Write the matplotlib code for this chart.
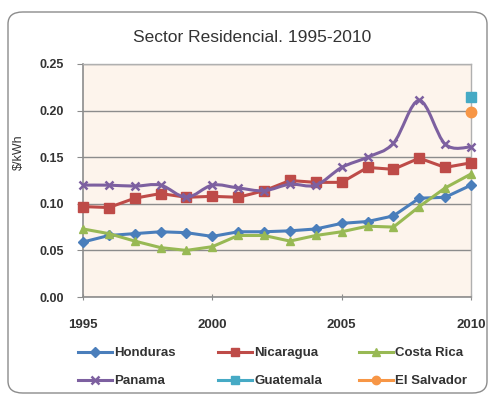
import numpy as np
import matplotlib
matplotlib.use("Agg")
import matplotlib.pyplot as plt
from matplotlib.path import Path
from matplotlib.patches import PathPatch, FancyBboxPatch
from matplotlib.lines import Line2D

years = list(range(1995, 2011))
honduras = [0.059, 0.066, 0.068, 0.070, 0.069, 0.065, 0.070, 0.070, 0.071, 0.073,
            0.079, 0.081, 0.087, 0.106, 0.107, 0.120]
nicaragua = [0.097, 0.096, 0.106, 0.111, 0.107, 0.108, 0.107, 0.114, 0.125, 0.123,
             0.123, 0.139, 0.137, 0.149, 0.139, 0.144]
costa_rica = [0.073, 0.068, 0.060, 0.053, 0.050, 0.054, 0.066, 0.066, 0.060, 0.066,
              0.070, 0.076, 0.075, 0.097, 0.117, 0.132]
panama = [0.120, 0.120, 0.119, 0.120, 0.107, 0.120, 0.117, 0.114, 0.121, 0.120,
          0.139, 0.150, 0.165, 0.211, 0.164, 0.161]
guatemala_year, guatemala = [2010], [0.215]
salvador_year, salvador = [2010], [0.199]

title = "Sector Residencial. 1995-2010"
ylabel = "$/kWh"
xticks = [1995, 2000, 2005, 2010]
yticks = [0.0, 0.05, 0.10, 0.15, 0.20, 0.25]

C_HON = "#4A7EBB"
C_NIC = "#BE4B48"
C_CR = "#98B954"
C_PAN = "#7D60A0"
C_GUA = "#46AAC5"
C_SAL = "#F79646"

plt.rcParams["font.family"] = ["Liberation Sans", "DejaVu Sans"]

W, H = 491, 398
fig = plt.figure(figsize=(W / 100, H / 100), dpi=100)
fig.patch.set_facecolor("white")

# rounded chart frame
frame = FancyBboxPatch((8 / W, 5 / H), 479 / W, 381 / H,
                       boxstyle="round,pad=0,rounding_size=0.03",
                       transform=fig.transFigure, facecolor="white",
                       edgecolor="#8c8c8c", linewidth=1.0, zorder=-5)
fig.patches.append(frame)

ax = fig.add_axes([83 / W, 1 - 297 / H, 388 / W, 233 / H])
ax.set_facecolor("#FDF4EC")
ax.set_xlim(1995, 2010)
ax.set_ylim(0, 0.25)
ax.set_yticks(yticks)
ax.set_yticklabels([f"{v:.2f}" for v in yticks], fontsize=9, fontweight="bold",
                   color="#333333")
ax.set_xticks(xticks)
ax.set_xticklabels([str(v) for v in xticks], fontsize=9.5, fontweight="bold",
                   color="#333333")
ax.tick_params(axis="x", pad=14, length=4, color="#8c8c8c", direction="inout")
ax.tick_params(axis="y", length=4, color="#8c8c8c", direction="out", pad=10)
ax.grid(axis="y", color="#8c8c8c", linewidth=1.0)
ax.set_axisbelow(True)
for side in ("top", "right"):
    ax.spines[side].set_color("#b0b0b0")
    ax.spines[side].set_linewidth(1.0)
for side in ("left", "bottom"):
    ax.spines[side].set_color("#8c8c8c")
    ax.spines[side].set_linewidth(1.2)

fig.text(252 / W, 1 - 37 / H, title, fontsize=12.5, color="#333333",
         ha="center", va="center")
fig.text(19 / W, 1 - 152 / H, ylabel, fontsize=9, color="#333333",
         ha="center", va="center", rotation=90)

lw = 2.2
ax.plot(years, honduras, color=C_HON, lw=lw, marker="D", ms=5.5, clip_on=False, zorder=4)
ax.plot(years, nicaragua, color=C_NIC, lw=lw, marker="s", ms=6.5, clip_on=False, zorder=4)
ax.plot(years, costa_rica, color=C_CR, lw=lw, marker="^", ms=6, clip_on=False, zorder=4)


def smooth_path(xs, ys, tension=1 / 6):
    # cubic Bezier segments through each point (Catmull-Rom style)
    pts = np.column_stack([xs, ys]).astype(float)
    verts = [tuple(pts[0])]
    codes = [Path.MOVETO]
    n = len(pts)
    for i in range(n - 1):
        p0 = pts[i - 1] if i > 0 else pts[i]
        p1 = pts[i]
        p2 = pts[i + 1]
        p3 = pts[i + 2] if i + 2 < n else pts[i + 1]
        c1 = p1 + (p2 - p0) * tension
        c2 = p2 - (p3 - p1) * tension
        verts += [tuple(c1), tuple(c2), tuple(p2)]
        codes += [Path.CURVE4] * 3
    return Path(verts, codes)


ax.add_patch(PathPatch(smooth_path(years, panama), facecolor="none",
                       edgecolor=C_PAN, lw=lw, zorder=4, clip_on=False))
ax.plot(years, panama, linestyle="none", color=C_PAN, marker="x", ms=6, mew=1.8,
        clip_on=False, zorder=5)
ax.plot(guatemala_year, guatemala, linestyle="none", color=C_GUA, marker="s", ms=7,
        clip_on=False, zorder=5)
ax.plot(salvador_year, salvador, linestyle="none", color=C_SAL, marker="o", ms=7.5,
        clip_on=False, zorder=5)

# legend: three columns of two entries each
columns = [
    ([Line2D([], [], color=C_HON, lw=lw, marker="D", ms=5),
      Line2D([], [], color=C_PAN, lw=lw, marker="x", ms=6, mew=1.8)],
     ["Honduras", "Panama"], 78),
    ([Line2D([], [], color=C_NIC, lw=lw, marker="s", ms=6),
      Line2D([], [], color=C_GUA, lw=lw, marker="s", ms=6)],
     ["Nicaragua", "Guatemala"], 218),
    ([Line2D([], [], color=C_CR, lw=lw, marker="^", ms=5.5),
      Line2D([], [], color=C_SAL, lw=lw, marker="o", ms=6)],
     ["Costa Rica", "El Salvador"], 359),
]
for hs, ls, x0 in columns:
    leg = fig.legend(hs, ls, loc="upper left", bbox_to_anchor=(x0 / W, 1 - 347 / H),
                     frameon=False, handlelength=2.6, handletextpad=0.15,
                     labelspacing=1.2, borderpad=0, borderaxespad=0,
                     prop={"weight": "bold", "size": 9.5})
    for t in leg.get_texts():
        t.set_color("#333333")

fig.savefig("out.png", dpi=100)
